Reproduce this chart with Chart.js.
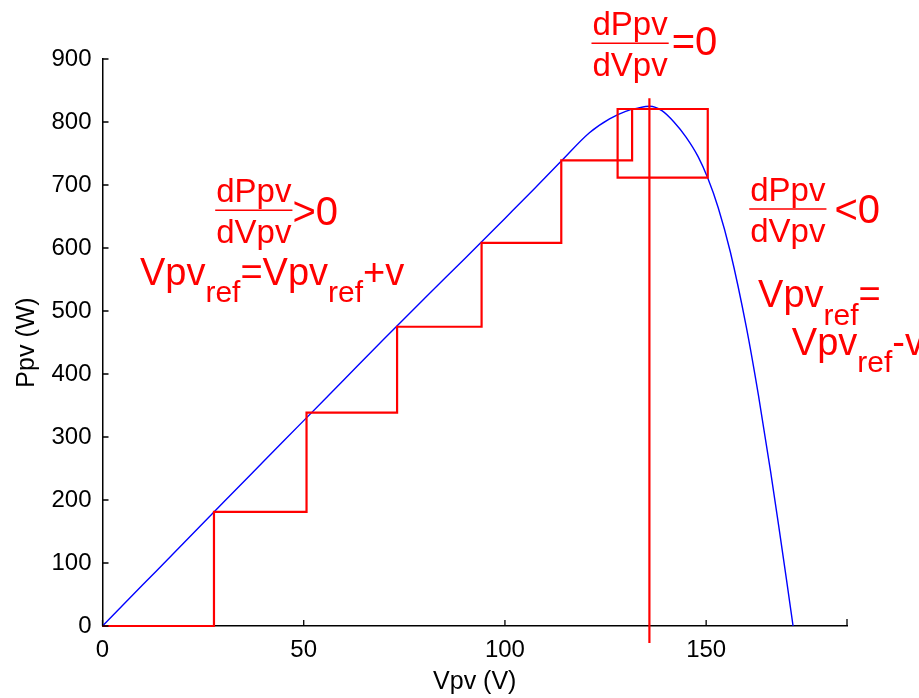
<!DOCTYPE html>
<html><head><meta charset="utf-8">
<script src="https://cdn.jsdelivr.net/npm/chart.js@4.4.1/dist/chart.umd.min.js"></script>
<style>html,body{margin:0;padding:0;background:#fff;}#wrap{position:relative;width:919px;height:698px;}</style>
</head><body><div id="wrap"><canvas id="c" width="919" height="698"></canvas></div>
<script>
// P-V curve of the panel
const curveV = [0, 10, 20, 30, 40, 50, 60, 70, 80, 90, 100, 107, 114, 121, 126, 130, 133, 136, 139, 142, 145, 148, 150.4, 153, 156, 160, 163, 166, 168, 170, 171.6];
const curveP = [0, 65.3, 130.6, 196, 261, 326, 391, 456, 520, 583, 647, 692, 738, 783, 805, 817, 822, 825, 818, 800, 776, 745, 711, 664, 594, 474, 366, 246, 160, 72, 0];
// Perturb & observe staircase
const stepV = [0, 27.7, 27.7, 50.7, 50.7, 73.2, 73.2, 94.2, 94.2, 114, 114, 131.6, 131.6, 150.4, 150.4, 128, 128, 131.6];
const stepP = [0, 0, 181, 181, 338.6, 338.6, 475, 475, 608, 608, 739, 739, 820.6, 820.6, 711.6, 711.6, 820.6, 820.6];
// maximum power point marker line
const mppV = [135.9, 135.9];
const mppP = [-27, 837.6];
// axis ticks
const xTicks = [0, 50, 100, 150];
const yTicks = [0, 100, 200, 300, 400, 500, 600, 700, 800, 900];

const FONT = '"Liberation Sans", Arial, Helvetica, sans-serif';
const toPts = (xs, ys) => xs.map((x, i) => ({x: x, y: ys[i]}));

function drawRich(ctx, x, base, parts, size, subSize, subOff) {
  ctx.textAlign = 'left';
  ctx.textBaseline = 'alphabetic';
  for (const [t, sub] of parts) {
    ctx.font = (sub ? subSize : size) + 'px ' + FONT;
    ctx.fillText(t, x, sub ? base + subOff : base);
    x += ctx.measureText(t).width;
  }
  return x;
}
function drawFrac(ctx, cx, lineY, num, den, size) {
  ctx.font = size + 'px ' + FONT;
  const w = Math.max(ctx.measureText(num).width, ctx.measureText(den).width);
  ctx.textAlign = 'center';
  ctx.textBaseline = 'alphabetic';
  ctx.fillText(num, cx, lineY - 8);
  ctx.fillText(den, cx, lineY + 33);
  ctx.lineWidth = 1.5;
  ctx.beginPath();
  ctx.moveTo(cx - w / 2 - 1, lineY);
  ctx.lineTo(cx + w / 2 + 1, lineY);
  ctx.stroke();
  return cx + w / 2 + 1;
}

const annot = {
  id: 'annot',
  afterDraw(chart) {
    const ctx = chart.ctx, xs = chart.scales.x, ys = chart.scales.y;
    const X = v => xs.getPixelForValue(v), Y = v => ys.getPixelForValue(v);
    ctx.save();
    // inward tick marks
    ctx.strokeStyle = '#000';
    ctx.lineWidth = 1.3;
    const b = chart.chartArea.bottom, l = chart.chartArea.left;
    ctx.beginPath();
    for (const v of xTicks) { const p = X(v); ctx.moveTo(p, b); ctx.lineTo(p, b - 6); }
    ctx.moveTo(X(xs.max), b); ctx.lineTo(X(xs.max), b - 7);
    for (const v of yTicks) { const p = Y(v); ctx.moveTo(l, p); ctx.lineTo(l + 6, p); }
    ctx.stroke();
    // annotations
    ctx.fillStyle = '#ff0000';
    ctx.strokeStyle = '#ff0000';
    let r;
    r = drawFrac(ctx, X(37.6), Y(660), 'dPpv', 'dVpv', 33);
    ctx.font = '40px ' + FONT; ctx.textAlign = 'left';
    ctx.fillText('>0', r, Y(660) + 15);
    drawRich(ctx, X(9.3), Y(541), [['Vpv', 0], ['ref', 1], ['=Vpv', 0], ['ref', 1], ['+v', 0]], 38, 30, 17);

    r = drawFrac(ctx, X(170.3), Y(662), 'dPpv', 'dVpv', 33);
    ctx.font = '40px ' + FONT; ctx.textAlign = 'left';
    ctx.fillText('<0', r + 8, Y(662) + 14);
    drawRich(ctx, X(162.9), Y(506), [['Vpv', 0], ['ref', 1], ['=', 0]], 38, 30, 18);
    drawRich(ctx, X(171.3), Y(430), [['Vpv', 0], ['ref', 1], ['-v', 0]], 38, 30, 17);

    r = drawFrac(ctx, X(131.1), Y(925), 'dPpv', 'dVpv', 33);
    ctx.font = '40px ' + FONT; ctx.textAlign = 'left';
    ctx.fillText('=0', r + 3, Y(925) + 12);
    ctx.restore();
  }
};

new Chart(document.getElementById('c'), {
  type: 'scatter',
  data: {
    datasets: [
      {data: toPts(mppV, mppP), showLine: true, borderColor: '#ff0000', borderWidth: 2.2, pointRadius: 0, clip: false},
      {data: toPts(stepV, stepP), showLine: true, borderColor: '#ff0000', borderWidth: 2.2, pointRadius: 0, clip: false, tension: 0},
      {data: toPts(curveV, curveP), showLine: true, borderColor: '#0000ff', borderWidth: 1.4, pointRadius: 0, cubicInterpolationMode: 'monotone', clip: false}
    ]
  },
  options: {
    responsive: false,
    animation: false,
    devicePixelRatio: 1,
    layout: {padding: {top: 59, right: 72, bottom: 0, left: 0}},
    plugins: {legend: {display: false}, tooltip: {enabled: false}},
    scales: {
      x: {
        type: 'linear', min: 0, max: 185,
        afterBuildTicks: s => { s.ticks = xTicks.map(v => ({value: v})); },
        afterFit: s => { s.height = 72; },
        ticks: {font: {family: FONT, size: 24}, color: '#000', padding: 10, maxRotation: 0},
        grid: {display: false, drawTicks: false},
        border: {display: true, color: '#000', width: 1.5},
        title: {display: true, text: 'Vpv (V)', color: '#000', font: {family: FONT, size: 25}, padding: {top: 0, bottom: 1}}
      },
      y: {
        type: 'linear', min: 0, max: 900,
        afterBuildTicks: s => { s.ticks = yTicks.map(v => ({value: v})); },
        afterFit: s => { s.width = 102.5; },
        ticks: {font: {family: FONT, size: 24}, color: '#000', padding: 11},
        grid: {display: false, drawTicks: false},
        border: {display: true, color: '#000', width: 1.5},
        title: {display: true, text: 'Ppv (W)', color: '#000', font: {family: FONT, size: 25}, padding: {top: 12, bottom: 0}}
      }
    }
  },
  plugins: [annot]
});
</script></body></html>
